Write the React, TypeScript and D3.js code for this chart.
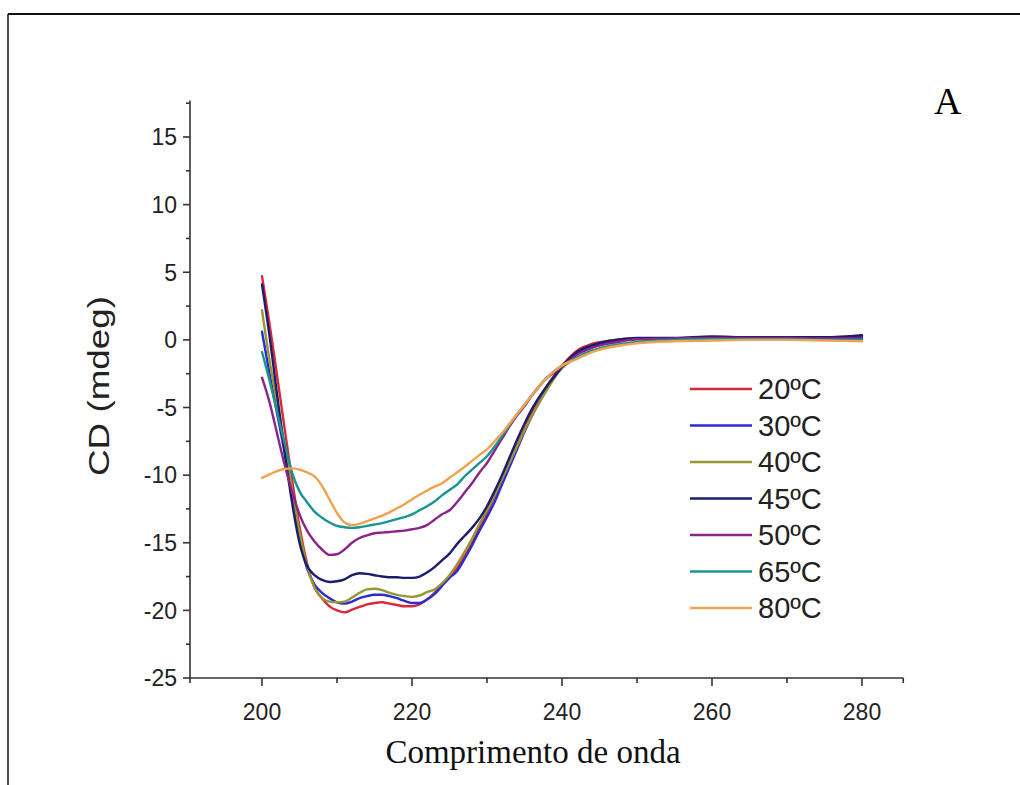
import React from 'react';
import * as d3 from 'd3';

// wavelength grid (nm)
const waves = [
  200, 201, 202, 203, 204, 205, 206, 207, 208, 209, 210, 211, 212, 213, 214, 215, 216, 217, 218, 219,
  220, 221, 222, 223, 224, 225, 226, 227, 228, 229, 230, 231, 232, 233, 234, 235, 236, 237, 238, 239,
  240, 242, 244, 246, 248, 250, 255, 260, 265, 270, 275, 280,
];

const cd20 = [
  4.7, 1.2, -2.6, -6.5, -10.3, -13.8, -16.5, -18.3, -19.1, -19.7, -20.0, -20.15, -19.95, -19.75, -19.55, -19.45, -19.4, -19.5, -19.6, -19.7,
  -19.7, -19.55, -19.2, -18.7, -18.1, -17.5, -16.9, -16.0, -15.0, -13.9, -12.8, -11.6, -10.4, -9.1, -7.8, -6.6, -5.4, -4.3, -3.4, -2.6,
  -1.9, -0.8, -0.3, -0.1, 0.05, 0.1, 0.1, 0.15, 0.1, 0.15, 0.1, 0.2,
];
const cd30 = [
  0.6, -2.5, -5.4, -8.3, -11.5, -14.6, -16.9, -18.1, -18.7, -19.1, -19.4, -19.5, -19.35, -19.1, -18.95, -18.85, -18.85, -18.95, -19.1, -19.3,
  -19.45, -19.45, -19.2, -18.8, -18.2, -17.6, -17.1, -16.2, -15.2, -14.1, -13.1, -12.0, -10.7, -9.4, -8.1, -6.8, -5.6, -4.6, -3.6, -2.7,
  -2.0, -1.0, -0.5, -0.2, 0.0, 0.1, 0.1, 0.15, 0.1, 0.1, 0.15, 0.2,
];
const cd40 = [
  2.2, -1.5, -4.6, -7.7, -11.0, -14.2, -16.7, -18.3, -19.1, -19.35, -19.4, -19.35, -19.05, -18.7, -18.45, -18.4, -18.5, -18.7, -18.85, -18.95,
  -19.0, -18.9, -18.65, -18.45, -18.0, -17.4, -16.6, -15.7, -14.7, -13.6, -12.6, -11.5, -10.3, -9.1, -7.9, -6.7, -5.6, -4.6, -3.7, -2.8,
  -2.1, -1.3, -0.8, -0.5, -0.3, -0.15, 0.0, 0.05, 0.05, 0.05, 0.0, 0.0,
];
const cd45 = [
  4.1, 0.3, -4.0, -8.2, -12.0, -15.0, -16.7, -17.4, -17.75, -17.9, -17.85, -17.7, -17.4, -17.25, -17.3, -17.4, -17.5, -17.55, -17.55, -17.6,
  -17.6, -17.5, -17.2, -16.8, -16.3, -15.8, -15.1, -14.5, -13.9, -13.2, -12.3, -11.2, -10.0, -8.7, -7.4, -6.2, -5.1, -4.2, -3.4, -2.7,
  -2.0, -0.9, -0.4, -0.1, 0.05, 0.15, 0.15, 0.25, 0.2, 0.2, 0.2, 0.35,
];
const cd50 = [
  -2.8, -4.6, -6.9, -9.2, -11.2, -12.9, -14.1, -14.9, -15.5, -15.9, -15.85, -15.5, -15.0, -14.65, -14.45, -14.3, -14.25, -14.2, -14.15, -14.1,
  -14.0, -13.9, -13.7, -13.3, -12.9, -12.6, -12.0, -11.3, -10.6, -9.8, -9.1, -8.2, -7.3, -6.4, -5.6, -4.9, -4.1, -3.4, -2.8, -2.4,
  -2.0, -1.1, -0.6, -0.3, -0.1, 0.05, 0.1, 0.15, 0.15, 0.15, 0.1, 0.1,
];
const cd65 = [
  -0.9, -3.0, -5.3, -7.6, -9.8, -11.2, -12.0, -12.7, -13.15, -13.5, -13.75, -13.85, -13.9, -13.85, -13.75, -13.65, -13.55, -13.4, -13.25, -13.1,
  -12.9, -12.6, -12.3, -11.95, -11.5, -11.1, -10.7, -10.1, -9.6, -9.1, -8.6, -7.9, -7.1, -6.3, -5.5, -4.8, -4.1, -3.4, -2.8, -2.3,
  -1.9, -1.3, -0.8, -0.5, -0.3, -0.15, 0.0, 0.05, 0.05, 0.05, 0.0, 0.0,
];
const cd80 = [
  -10.2, -9.95, -9.7, -9.55, -9.5, -9.6, -9.8, -10.1, -10.8, -11.8, -12.8, -13.5, -13.7, -13.6, -13.4, -13.2, -13.0, -12.75, -12.45, -12.15,
  -11.8, -11.45, -11.15, -10.85, -10.6, -10.2, -9.8, -9.4, -8.95, -8.5, -8.1, -7.5, -6.9, -6.2, -5.5, -4.8, -4.1, -3.4, -2.8, -2.3,
  -1.9, -1.4, -0.9, -0.6, -0.4, -0.25, -0.1, -0.05, 0.0, 0.0, -0.05, -0.1,
];

const labels = ['20ºC', '30ºC', '40ºC', '45ºC', '50ºC', '65ºC', '80ºC'];
const colors = ['#d8283c', '#2b2bd4', '#969632', '#1c1c6c', '#8a2488', '#1a9490', '#f0a24e'];
const seriesValues = [cd20, cd30, cd40, cd45, cd50, cd65, cd80];

const xMajor = [200, 220, 240, 260, 280];
const xMinor = [210, 230, 250, 270];
const yMajor = [-25, -20, -15, -10, -5, 0, 5, 10, 15];
const yMinor = [-22.5, -17.5, -12.5, -7.5, -2.5, 2.5, 7.5, 12.5, 17.5];

export default function App() {
  const width = 1020;
  const height = 785;

  const x = d3.scaleLinear().domain([200, 280]).range([262, 862]);
  const y = d3.scaleLinear().domain([-25, 15]).range([678, 137]);

  const xStart = x(190.4);
  const xEnd = x(285.5);
  const yTop = y(17.7);
  const axisY = y(-25);

  const line = d3
    .line<number>()
    .x((_, i) => x(waves[i]))
    .y((d) => y(d))
    .curve(d3.curveMonotoneX);

  const sans = 'Liberation Sans, Arial, sans-serif';
  const serif = 'Liberation Serif, Times New Roman, serif';

  return (
    <svg
      width={width}
      height={height}
      style={{ position: 'absolute', left: 0, top: 0, background: '#fff' }}
    >
      <rect x={0} y={0} width={width} height={height} fill="#fff" />
      {/* outer frame */}
      <line x1={8} y1={14} x2={width} y2={14} stroke="#111" strokeWidth={2} />
      <line x1={8} y1={14} x2={8} y2={height} stroke="#111" strokeWidth={1.5} />

      <text x={934} y={114} fontFamily={serif} fontSize={38} fill="#000">
        A
      </text>

      {/* series */}
      <g fill="none" strokeWidth={2.4} strokeLinejoin="round" strokeLinecap="round">
        {seriesValues.map((vals, i) => (
          <path key={labels[i]} d={line(vals) || ''} stroke={colors[i]} />
        ))}
      </g>

      {/* axes */}
      <g stroke="#333" strokeWidth={1.6}>
        <line x1={190} y1={yTop} x2={190} y2={axisY} />
        <line x1={xStart} y1={axisY} x2={xEnd} y2={axisY} />
        {yMajor.map((v) => (
          <line key={'ym' + v} x1={183} x2={190} y1={y(v)} y2={y(v)} />
        ))}
        {yMinor.map((v) => (
          <line key={'yn' + v} x1={186} x2={190} y1={y(v)} y2={y(v)} />
        ))}
        {xMajor.map((v) => (
          <line key={'xm' + v} x1={x(v)} x2={x(v)} y1={axisY} y2={axisY + 8} />
        ))}
        {xMinor.map((v) => (
          <line key={'xn' + v} x1={x(v)} x2={x(v)} y1={axisY} y2={axisY + 5} />
        ))}
        <line x1={xStart} x2={xStart} y1={axisY} y2={axisY + 5} />
        <line x1={xEnd} x2={xEnd} y1={axisY} y2={axisY + 5} />
      </g>

      <g fontFamily={sans} fontSize={23} fill="#222">
        {yMajor.map((v) => (
          <text key={'yl' + v} x={177} y={y(v)} dy="0.36em" textAnchor="end">
            {v}
          </text>
        ))}
        {xMajor.map((v) => (
          <text key={'xl' + v} x={x(v)} y={720} textAnchor="middle">
            {v}
          </text>
        ))}
      </g>

      <text
        transform={`translate(109, 386) rotate(-90)`}
        textAnchor="middle"
        fontFamily={sans}
        fontSize={30}
        textLength={180}
        lengthAdjust="spacingAndGlyphs"
        fill="#222"
      >
        CD (mdeg)
      </text>

      <text
        x={533}
        y={763}
        textAnchor="middle"
        fontFamily={serif}
        fontSize={33}
        fill="#111"
      >
        Comprimento de onda
      </text>

      {/* legend */}
      <g>
        {labels.map((lab, i) => {
          const ly = 389 + i * 36.5;
          return (
            <g key={'lg' + lab}>
              <line x1={690} x2={752} y1={ly} y2={ly} stroke={colors[i]} strokeWidth={2.5} />
              <text x={758} y={ly} dy="0.36em" fontFamily={sans} fontSize={29} fill="#222">
                {lab}
              </text>
            </g>
          );
        })}
      </g>
    </svg>
  );
}
